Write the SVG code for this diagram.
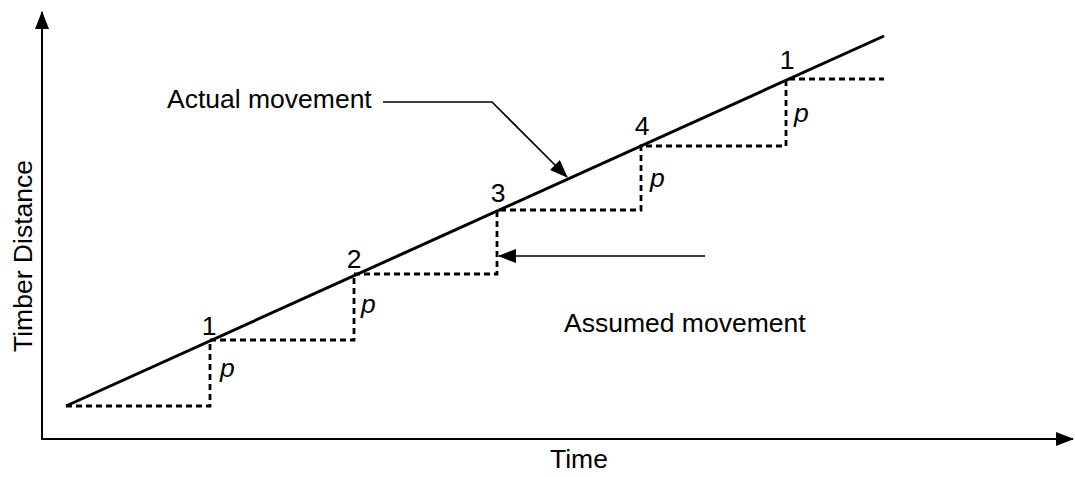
<svg xmlns="http://www.w3.org/2000/svg" width="1075" height="477" viewBox="0 0 1075 477">
<style>
text{font-family:"Liberation Sans",Arial,sans-serif;font-size:26.5px;fill:#000}
.it{font-style:italic}
.axis{stroke:#000;stroke-width:2;fill:none}
.main{stroke:#000;stroke-width:3;fill:none}
.dash{stroke:#000;stroke-width:2.8;fill:none;stroke-dasharray:6 4}
.lead{stroke:#000;stroke-width:1.6;fill:none}
</style>
<defs>
<marker id="ah" markerWidth="18" markerHeight="14" refX="17" refY="7" orient="auto" markerUnits="userSpaceOnUse">
<path d="M0,0 L18,7 L0,14 Z" fill="#000"/>
</marker>
</defs>
<rect width="1075" height="477" fill="#fff"/>
<g id="axes">
<line class="axis" x1="42" y1="440" x2="42" y2="12" marker-end="url(#ah)"/>
<line class="axis" x1="41" y1="439" x2="1073" y2="439" marker-end="url(#ah)"/>
<text x="550" y="468">Time</text>
<text transform="translate(32,256) rotate(-90)" text-anchor="middle">Timber Distance</text>
</g>
<g id="assumed">
<path class="dash" d="M66,406 H210 V340 H354 V274 H497 V210 H641 V146 H786 V79 H884"/>
</g>
<g id="actual">
<line class="main" x1="66" y1="406" x2="884" y2="36"/>
</g>
<g id="labels">
<text x="209" y="335" text-anchor="middle">1</text>
<text x="354" y="268" text-anchor="middle">2</text>
<text x="498" y="202" text-anchor="middle">3</text>
<text x="642" y="135" text-anchor="middle">4</text>
<text x="787" y="69" text-anchor="middle">1</text>
<text class="it" x="220" y="377">p</text>
<text class="it" x="361" y="313">p</text>
<text class="it" x="650" y="187">p</text>
<text class="it" x="794" y="122">p</text>
</g>
<g id="actual-label">
<text x="167" y="108">Actual movement</text>
</g>
<g id="assumed-label">
<text x="564" y="332">Assumed movement</text>
</g>
<g id="connectors">
<polyline class="lead" points="383,102 492,102 567,177" marker-end="url(#ah)"/>
<line class="lead" x1="705" y1="256" x2="499" y2="256" marker-end="url(#ah)"/>
</g>
</svg>
